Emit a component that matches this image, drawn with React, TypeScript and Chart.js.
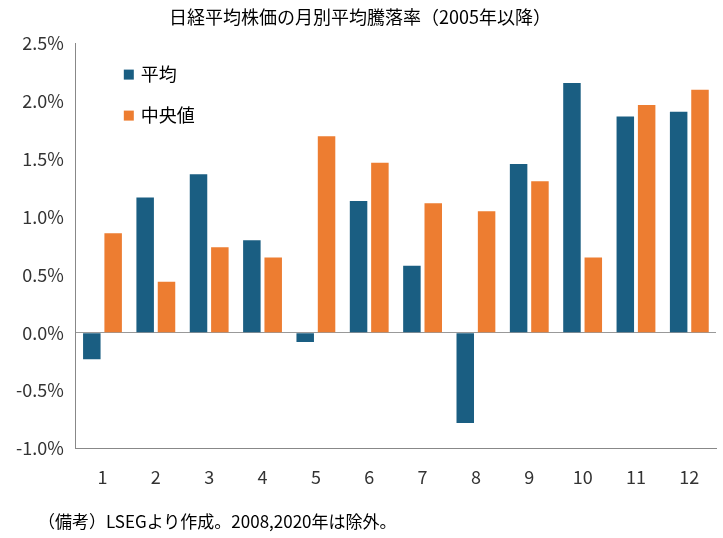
import React, { useEffect, useRef } from 'react';
import { Chart, registerables } from 'chart.js';

Chart.register(...registerables);

const months = ['1', '2', '3', '4', '5', '6', '7', '8', '9', '10', '11', '12'];
const averageValues = [-0.23, 1.17, 1.37, 0.8, -0.08, 1.14, 0.58, -0.78, 1.46, 2.16, 1.87, 1.91];
const medianValues = [0.86, 0.44, 0.74, 0.65, 1.7, 1.47, 1.12, 1.05, 1.31, 0.65, 1.97, 2.1];
const FONT = '"Noto Sans CJK JP", sans-serif';

const legendInside = {
  id: 'legendInside',
  afterDraw(chart: any) {
    const { ctx, chartArea } = chart;
    ctx.save();
    ctx.font = `18px ${FONT}`;
    ctx.textBaseline = 'middle';
    chart.data.datasets.forEach((ds: any, i: number) => {
      const y = chartArea.top + 31 + i * 41;
      const x = chartArea.left + 48;
      ctx.fillStyle = ds.backgroundColor;
      ctx.fillRect(x, y - 5, 10, 10);
      ctx.fillStyle = '#000';
      ctx.fillText(ds.label, x + 17, y);
    });
    ctx.restore();
  },
};

const App: React.FC = () => {
  const canvasRef = useRef<HTMLCanvasElement | null>(null);

  useEffect(() => {
    const ctx = canvasRef.current?.getContext('2d');
    if (!ctx) return;
    const chart = new Chart(ctx, {
      type: 'bar',
      data: {
        labels: months,
        datasets: [
          { label: '平均', data: averageValues, backgroundColor: '#1a5e82', barPercentage: 0.82, categoryPercentage: 0.8 },
          { label: '中央値', data: medianValues, backgroundColor: '#ed7d31', barPercentage: 0.82, categoryPercentage: 0.8 },
        ],
      },
      options: {
        responsive: false,
        animation: false,
        layout: { padding: { left: 4, right: 7, top: 0, bottom: 40 } },
        plugins: {
          legend: { display: false },
          tooltip: { enabled: false },
          title: {
            display: true,
            text: '日経平均株価の月別平均騰落率（2005年以降）',
            color: '#000',
            font: { family: FONT, size: 18, weight: 'normal' },
            padding: { top: 6, bottom: 16 },
          },
        },
        scales: {
          x: {
            grid: { display: false },
            border: { color: '#888' },
            ticks: { color: '#333', font: { family: FONT, size: 18 }, padding: 10 },
          },
          y: {
            min: -1,
            max: 2.5,
            border: { color: '#888' },
            grid: {
              drawTicks: false,
              color: (c: any) => (c.tick && c.tick.value === 0 ? '#999' : 'rgba(0,0,0,0)'),
            },
            ticks: {
              stepSize: 0.5,
              color: '#333',
              padding: 12,
              font: { family: FONT, size: 18 },
              callback: (v: any) => `${Number(v).toFixed(1)}%`,
            },
          },
        },
      },
      plugins: [legendInside],
    });
    return () => chart.destroy();
  }, []);

  return (
    <div style={{ position: 'fixed', left: 0, top: 0, width: 723, height: 538, background: '#fff' }}>
      <canvas ref={canvasRef} width={723} height={538}></canvas>
      <div
        style={{
          position: 'absolute',
          left: 38,
          top: 508,
          fontFamily: FONT,
          fontSize: 17,
          color: '#000',
          whiteSpace: 'nowrap',
        }}
      >
        （備考）LSEGより作成。2008,2020年は除外。
      </div>
    </div>
  );
};

export default App;
